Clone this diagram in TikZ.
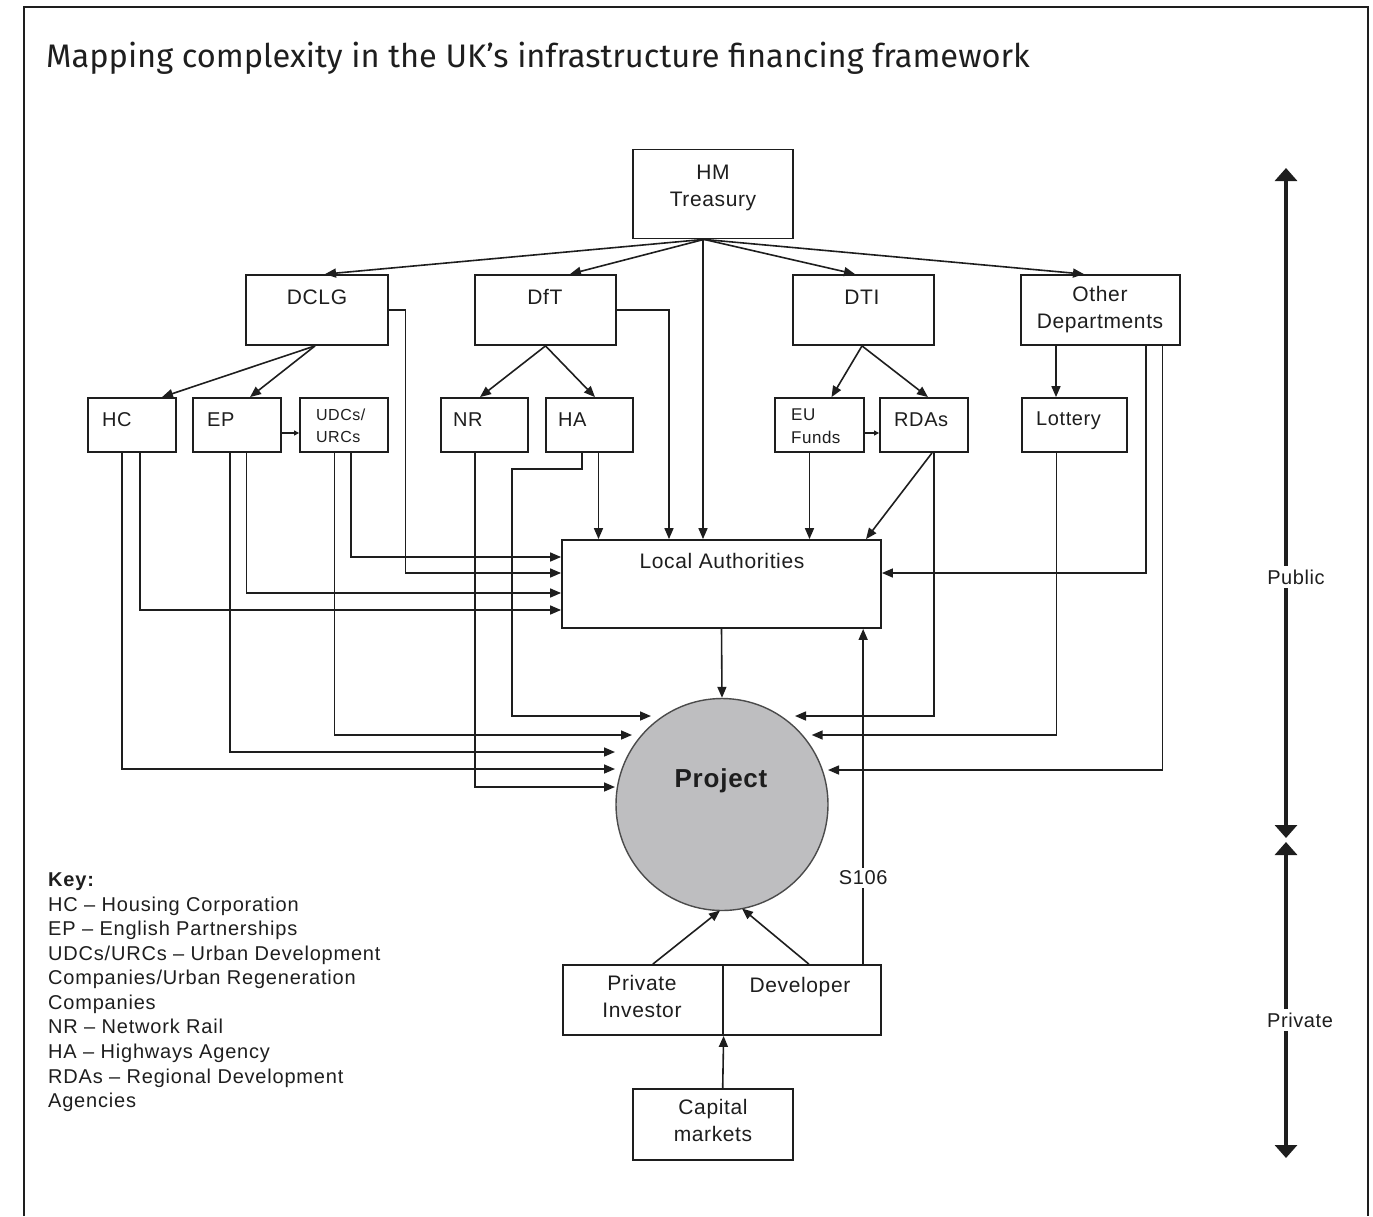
\documentclass[tikz,border=0pt]{standalone}
\usepackage{fontspec}
\setmainfont{Liberation Sans}
\newfontfamily\labfont[LetterSpace=3]{Liberation Sans}
\newfontfamily\keyfont[LetterSpace=4]{Liberation Sans}
\newfontfamily\titlefont{Fira Sans}
\usetikzlibrary{arrows.meta,calc}
\definecolor{ink}{RGB}{30,30,30}
\definecolor{projgray}{RGB}{190,190,192}
\begin{document}
\begin{tikzpicture}[x=1pt,y=-1pt,
  box/.style={draw=ink, line width=1.8pt, inner sep=0pt, fill=white},
  conn/.style={draw=ink, line width=1.6pt, -{Triangle[width=9pt,length=11pt]}},
  tiny/.style={draw=ink, line width=1.1pt, -{Triangle[width=5pt,length=5pt]}},
  big/.style={draw=ink, line width=3.5pt, {Triangle[width=22pt,length=13pt]}-{Triangle[width=22pt,length=13pt]}},
  lbl/.style={inner sep=0pt, text=ink, font=\labfont\fontsize{21}{27}\selectfont},
  slbl/.style={inner sep=0pt, text=ink, font=\labfont\fontsize{20}{24}\selectfont},
  keytxt/.style={inner sep=0pt, text=ink, anchor=mid west, font=\keyfont\fontsize{20}{24}\selectfont}]
\useasboundingbox (0,0) rectangle (1373,1216);
% frame
\draw[ink, line width=2pt] (24,1216) -- (24,7) -- (1368,7) -- (1368,1216);
\node[anchor=base west, inner sep=0pt, text=ink, font=\titlefont\fontsize{32.6}{36}\selectfont] (title) at (46,67)
  {Mapping complexity in the UK’s infrastructure financing framework};

% boxes
\node[box, minimum width=160pt, minimum height=89pt] (hmt) at (713,194) {};
\node[box, minimum width=142pt, minimum height=70pt] (dclg) at (317,310) {};
\node[box, minimum width=141pt, minimum height=70pt] (dft) at (545.5,310) {};
\node[box, minimum width=141pt, minimum height=70pt] (dti) at (863.5,310) {};
\node[box, minimum width=159pt, minimum height=70pt] (other) at (1100.5,310) {};
\node[box, minimum width=88pt, minimum height=54pt] (hc) at (132,425) {};
\node[box, minimum width=88pt, minimum height=54pt] (ep) at (237,425) {};
\node[box, minimum width=88pt, minimum height=54pt] (udc) at (344,425) {};
\node[box, minimum width=87pt, minimum height=54pt] (nr) at (484.5,425) {};
\node[box, minimum width=87pt, minimum height=54pt] (ha) at (589.5,425) {};
\node[box, minimum width=89pt, minimum height=54pt] (eu) at (819.5,425) {};
\node[box, minimum width=88pt, minimum height=54pt] (rda) at (924,425) {};
\node[box, minimum width=105pt, minimum height=54pt] (lot) at (1074.5,425) {};
\node[box, minimum width=319pt, minimum height=88pt] (la) at (721.5,584) {};
\node[circle, draw=ink!80, line width=1.4pt, fill=projgray, minimum size=212pt, inner sep=0pt] (proj) at (722,804.5) {};
\node[box, minimum width=159.7pt, minimum height=70pt] (pi) at (642.85,1000) {};
\node[box, minimum width=158.3pt, minimum height=70pt] (dev) at (801.85,1000) {};
\node[box, minimum width=160pt, minimum height=71pt] (cap) at (713,1124.5) {};

% labels
\node[lbl, align=center] (hmt-t) at (713,187.5) {HM\\Treasury};
\node[lbl, anchor=mid] (dclg-t) at (317,302) {DCLG};
\node[lbl, anchor=mid] (dft-t) at (545,302) {DfT};
\node[lbl, anchor=mid] (dti-t) at (862,302) {DTI};
\node[lbl, align=center] (other-t) at (1100,309.5) {Other\\Departments};
\node[slbl, anchor=mid west] (hc-t) at (102,424) {HC};
\node[slbl, anchor=mid west] (ep-t) at (207,424) {EP};
\node[inner sep=0pt, text=ink, anchor=west, align=left, font=\labfont\fontsize{16}{22}\selectfont] (udc-t) at (316,425.5) {UDCs/\\URCs};
\node[slbl, anchor=mid west] (nr-t) at (453,424) {NR};
\node[slbl, anchor=mid west] (ha-t) at (558,424) {HA};
\node[inner sep=0pt, text=ink, anchor=west, align=left, font=\labfont\fontsize{17}{23}\selectfont] (eu-t) at (791,426.5) {EU\\Funds};
\node[slbl, anchor=mid west] (rda-t) at (894,424) {RDAs};
\node[slbl, anchor=mid west] (lot-t) at (1036,423) {Lottery};
\node[lbl, anchor=mid] (la-t) at (722,566) {Local Authorities};
\node[inner sep=0pt, text=ink, anchor=mid, font=\bfseries\labfont\fontsize{26}{30}\selectfont] (proj-t) at (721,785) {Project};
\node[lbl, align=center] (pi-t) at (642,996.5) {Private\\Investor};
\node[lbl, anchor=mid] (dev-t) at (800,990) {Developer};
\node[lbl, align=center] (cap-t) at (713,1120) {Capital\\markets};

% key
\node[keytxt, font=\bfseries\keyfont\fontsize{20}{24}\selectfont] (key0) at (48,884) {Key:};
\foreach \t [count=\i] in {HC – Housing Corporation, EP – English Partnerships, UDCs/URCs – Urban Development, Companies/Urban Regeneration, Companies, NR – Network Rail, HA – Highways Agency, RDAs – Regional Development, Agencies}
  \node[keytxt] (key\i) at (48,884+\i*24.55) {\t};

% HM Treasury
\draw[conn] ([xshift=-9pt]hmt.south) -- ([xshift=8pt]dclg.north);
\draw[conn] ([xshift=-9pt]hmt.south) -- ([xshift=24.5pt]dft.north);
\draw[conn] ([xshift=-9pt]hmt.south) -- ([xshift=-8.5pt]dti.north);
\draw[conn] ([xshift=-9pt]hmt.south) -- ([xshift=-16.5pt]other.north);
\draw[conn] ([xshift=-10pt]hmt.south) -- ([xshift=-10pt]hmt.south |- la.north);

% departments to agencies
\draw[conn] ([xshift=-2pt]dclg.south) -- ([xshift=30pt]hc.north);
\draw[conn] ([xshift=-2pt]dclg.south) -- ([xshift=13pt]ep.north);
\draw[conn] (dft.south) -- ([xshift=-4.5pt]nr.north);
\draw[conn] (dft.south) -- ([xshift=5.5pt]ha.north);
\draw[conn] ([xshift=-1.5pt]dti.south) -- ([xshift=12pt]eu.north);
\draw[conn] ([xshift=-1.5pt]dti.south) -- ([xshift=4pt]rda.north);
\draw[conn] ([xshift=-44.5pt]other.south) -- ([xshift=-44.5pt]other.south |- lot.north);
\draw[tiny] ([yshift=-8pt]ep.east) -- ([yshift=-8pt]udc.west);
\draw[tiny] ([yshift=-8pt]eu.east) -- ([yshift=-8pt]rda.west);

% to Local Authorities
\draw[conn] ([xshift=7pt]udc.south) |- ([yshift=27pt]la.west);
\draw[conn] (dclg.east) -- ++(16.5,0) |- ([yshift=11pt]la.west);
\draw[conn] ([xshift=9.5pt]ep.south) |- ([yshift=-9pt]la.west);
\draw[conn] ([xshift=8pt]hc.south) |- ([yshift=-26pt]la.west);
\draw[conn] (dft.east) -| ([xshift=-52.5pt]la.north);
\draw[conn] ([xshift=9pt]ha.south) -- ([xshift=9pt]ha.south |- la.north);
\draw[conn] ([xshift=-10pt]eu.south) -- ([xshift=-10pt]eu.south |- la.north);
\draw[conn] ([xshift=8pt]rda.south) -- ([xshift=144.5pt]la.north);
\draw[conn] ([xshift=45.5pt]other.south) |- ([yshift=11pt]la.east);

% to Project
\draw[conn] (la.south) -- (proj.north);
\draw[conn] ([xshift=-7.5pt]ha.south) -- ++(0,16) -- ++(-70.3,0) |- ($(proj.center)+(-71,-88.5)$);
\draw[conn] ([xshift=-9.5pt]udc.south) |- ($(proj.center)+(-90,-69.5)$);
\draw[conn] ([xshift=-7pt]ep.south) |- ($(proj.center)+(-107,-52.5)$);
\draw[conn] ([xshift=-10pt]hc.south) |- ($(proj.center)+(-107,-35.5)$);
\draw[conn] ([xshift=-9.5pt]nr.south) |- ($(proj.center)+(-107,-17.5)$);
\draw[conn] ([xshift=10pt]rda.south) |- ($(proj.center)+(73,-88.5)$);
\draw[conn] ([xshift=-18pt]lot.south) |- ($(proj.center)+(89.7,-69.5)$);
\draw[conn] ([xshift=62pt]other.south) |- ($(proj.center)+(106,-34.5)$);

% private side
\draw[conn] ([xshift=10pt]pi.north) -- ($(proj.center)+(-2,106)$);
\draw[conn] ([xshift=7pt]dev.north) -- ($(proj.center)+(20,104)$);
\draw[conn] ([xshift=61.3pt]dev.north) -- node[pos=0.257, fill=white, inner sep=3pt, text=ink, font=\labfont\fontsize{20}{24}\selectfont] (s106) {S106} ([xshift=61.3pt]dev.north |- la.south);
\draw[conn] ([xshift=9.7pt]cap.north) -- (pi.south east);

% public / private scale
\coordinate (pubtop) at (1286,168);
\coordinate (pubbot) at (1286,838);
\coordinate (pritop) at (1286,842);
\coordinate (pribot) at (1286,1158);
\draw[big] (pubtop) -- (pubbot);
\draw[big] (pritop) -- (pribot);
\node[fill=white, inner sep=4pt, text=ink, font=\labfont\fontsize{20}{24}\selectfont] (public) at (1296,577) {Public};
\node[fill=white, inner sep=4pt, text=ink, font=\labfont\fontsize{20}{24}\selectfont] (private) at (1300,1020) {Private};
\end{tikzpicture}
\end{document}
